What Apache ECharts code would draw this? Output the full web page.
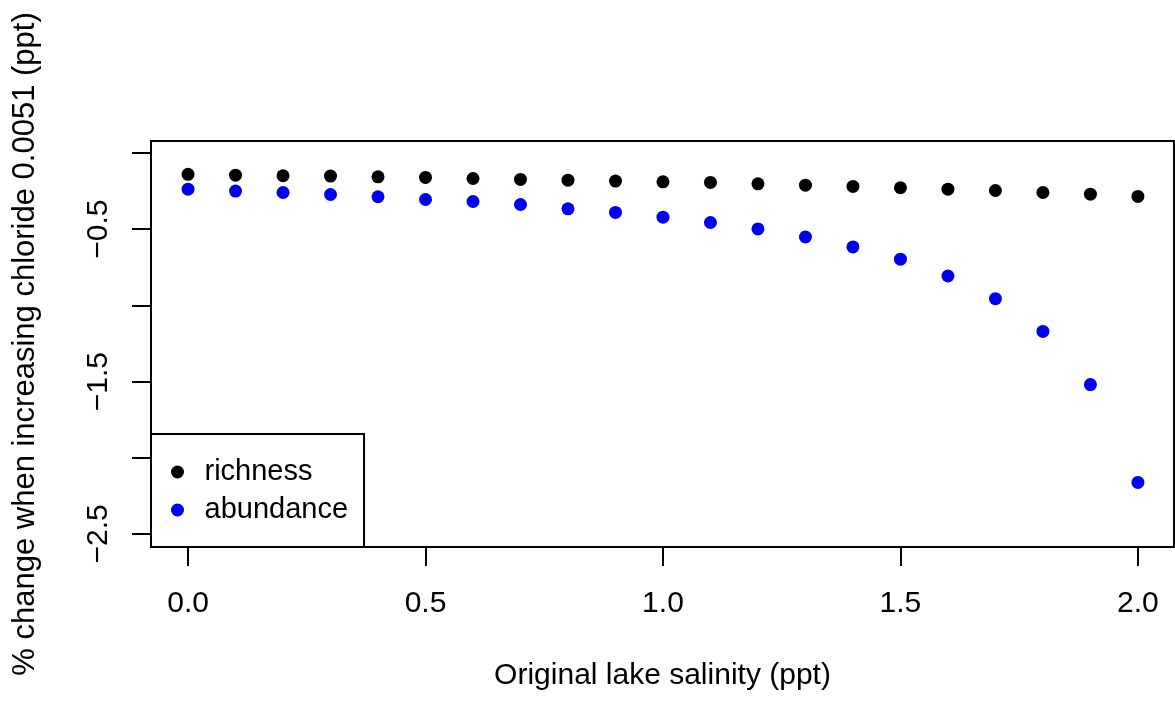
<!DOCTYPE html>
<html>
<head>
<meta charset="utf-8">
<script src="https://cdn.jsdelivr.net/npm/echarts@6/dist/echarts.min.js"></script>
<style>
  html, body { margin: 0; padding: 0; background: #fff; }
  #main { width: 1175px; height: 705px; }
</style>
</head>
<body>
<div id="main"></div>
<script>
// salinity values (ppt)
var salinity = [0.0, 0.1, 0.2, 0.3, 0.4, 0.5, 0.6, 0.7, 0.8, 0.9, 1.0,
                1.1, 1.2, 1.3, 1.4, 1.5, 1.6, 1.7, 1.8, 1.9, 2.0];
// % change in richness / abundance
var richness = [-0.140, -0.145, -0.149, -0.151, -0.156, -0.160, -0.167, -0.173, -0.178, -0.184, -0.189,
                -0.193, -0.202, -0.211, -0.219, -0.228, -0.237, -0.246, -0.259, -0.270, -0.285];
var abundance = [-0.237, -0.250, -0.259, -0.272, -0.287, -0.305, -0.318, -0.338, -0.366, -0.390, -0.421,
                 -0.456, -0.498, -0.551, -0.616, -0.697, -0.807, -0.956, -1.171, -1.520, -2.162];
var xTicks = [0, 0.5, 1.0, 1.5, 2.0];
var yTicks = [0, -0.5, -1.0, -1.5, -2.0, -2.5];
var yLabels = [-0.5, -1.5, -2.5];

function pairs(ys) {
  return salinity.map(function (x, i) { return [x, ys[i]]; });
}

var font = '"Liberation Sans", Arial, Helvetica, sans-serif';
var chart = echarts.init(document.getElementById('main'));

var option = {
  backgroundColor: '#fff',
  animation: false,
  textStyle: { fontFamily: font },
  grid: {
    left: 151, top: 141, right: 1, bottom: 158,
    show: true, borderColor: '#000', borderWidth: 2,
    containLabel: false
  },
  xAxis: {
    type: 'value',
    min: -0.078, max: 2.076,
    name: 'Original lake salinity (ppt)',
    nameLocation: 'middle',
    nameGap: 114,
    nameTextStyle: { fontSize: 30, color: '#000', fontFamily: font },
    axisLine: { show: false, onZero: false },
    splitLine: { show: false },
    axisTick: { show: true, inside: false, length: 19, customValues: xTicks,
                lineStyle: { color: '#000', width: 2 } },
    axisLabel: { customValues: xTicks, margin: 42, fontSize: 30, color: '#000',
                 fontFamily: font,
                 formatter: function (v) { return v.toFixed(1); } }
  },
  yAxis: {
    type: 'value',
    min: -2.586, max: 0.079,
    name: '% change when increasing chloride 0.0051 (ppt)',
    nameLocation: 'middle',
    nameRotate: 90,
    nameGap: 110,
    nameTextStyle: { fontSize: 31, color: '#000', fontFamily: font },
    axisLine: { show: false, onZero: false },
    splitLine: { show: false },
    axisTick: { show: true, inside: false, length: 19, customValues: yTicks,
                lineStyle: { color: '#000', width: 2 } },
    axisLabel: { customValues: yLabels, rotate: 90, margin: 37, fontSize: 30, color: '#000',
                 fontFamily: font,
                 formatter: function (v) { return v.toFixed(1).replace('-', '\u2212'); } }
  },
  legend: {
    orient: 'vertical',
    left: 151, top: 434,
    backgroundColor: '#fff',
    borderColor: '#000', borderWidth: 2, borderRadius: 0,
    padding: [23, 16, 22, 20],
    itemWidth: 44, itemHeight: 13, itemGap: 8,
    textStyle: { fontSize: 29, color: '#000', lineHeight: 30, fontFamily: font },
    data: [
      { name: 'richness', icon: 'circle' },
      { name: 'abundance', icon: 'circle' }
    ]
  },
  series: [
    {
      name: 'richness', type: 'scatter', symbol: 'circle', symbolSize: 13,
      itemStyle: { color: '#000', opacity: 1 },
      data: pairs(richness)
    },
    {
      name: 'abundance', type: 'scatter', symbol: 'circle', symbolSize: 13,
      itemStyle: { color: '#0000f0', opacity: 1 },
      data: pairs(abundance)
    }
  ]
};

chart.setOption(option);
</script>
</body>
</html>
